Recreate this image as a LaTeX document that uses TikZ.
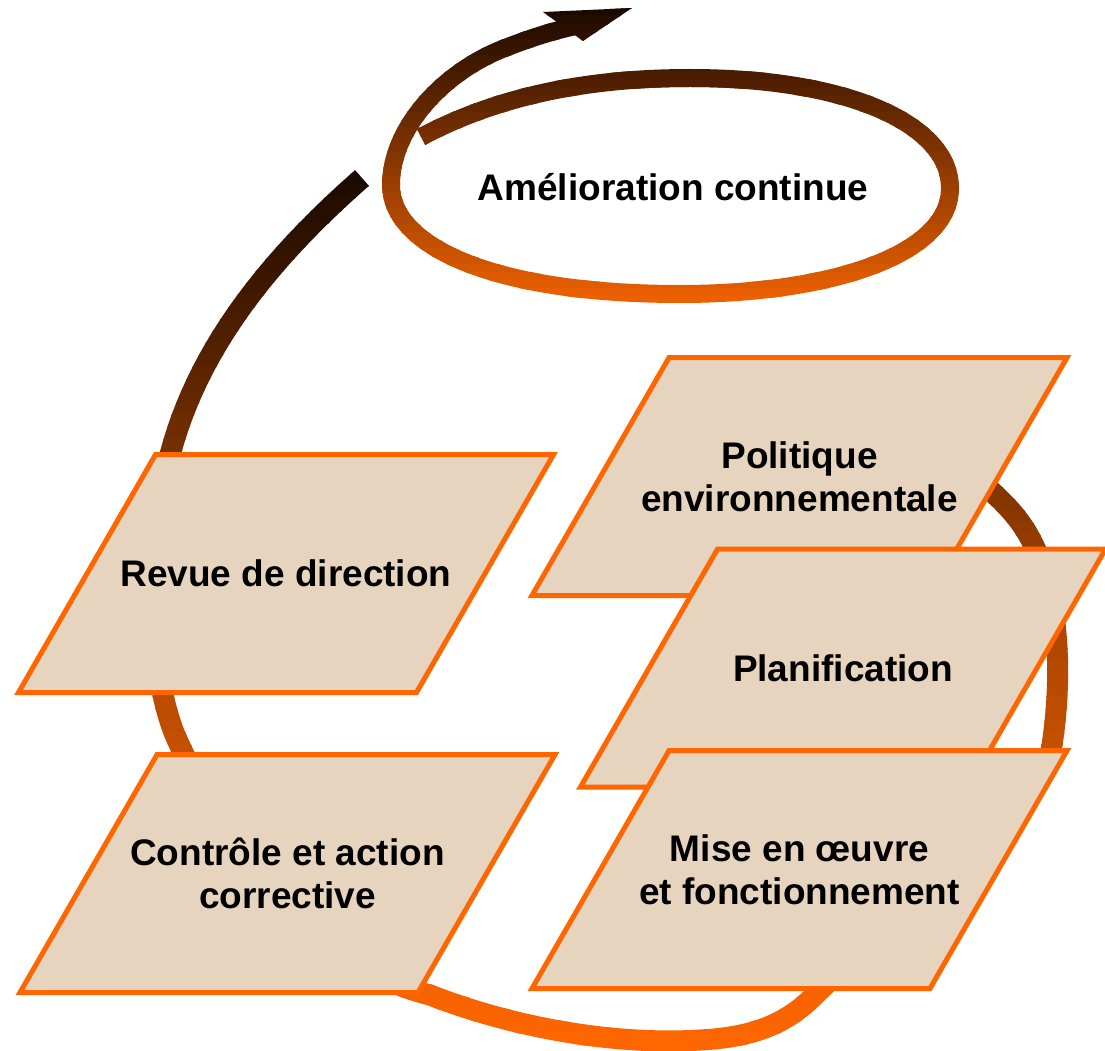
\documentclass[tikz,border=0pt]{standalone}
\usepackage{fontspec}
\setmainfont{Liberation Sans}

\definecolor{panelline}{HTML}{FF6600}
\definecolor{panelfill}{HTML}{E6D4BF}
\definecolor{spiraltop}{HTML}{140600}
\definecolor{spiralbot}{HTML}{F56400}
\definecolor{looplight}{HTML}{FF6600}
\definecolor{loopmid}{HTML}{A84400}
\definecolor{loopdark}{HTML}{120600}

\tikzset{%
        every node/.style = {font = \bfseries\fontsize{37}{43}\selectfont},
        label/.style = {align = center, inner sep = 0pt},
        panelframe/.style = {draw = panelline, line width = 5pt, fill = panelfill, xslant = 0.576},
        band/.style = {line width = 21pt},
        thinband/.style = {line width = 18pt},
        spiralline/.style = {insert path = {(421,137) .. controls (500,95) and (590,78) .. (690,78)
            .. controls (850,78) and (950,125) .. (950,188)
            .. controls (950,255) and (830,294) .. (680,294)
            .. controls (490,294) and (391,245) .. (391,185)
            .. controls (391,130) and (440,75) .. (500,50)
            .. controls (530,38) and (555,30) .. (585,24)}},
        loopline/.style = {insert path = {(362,178) .. controls (280,250) and (200,340) .. (170,455)
            .. controls (150,540) and (145,660) .. (175,735)
            .. controls (240,880) and (330,970) .. (430,995)
            .. controls (520,1030) and (620,1045) .. (700,1040)
            .. controls (760,1037) and (790,1020) .. (815,995)
            .. controls (900,910) and (1040,820) .. (1052,745)
            .. controls (1062,680) and (1060,600) .. (1035,548)
            .. controls (1020,515) and (1000,500) .. (985,485)}}
    }

% slanted box with its text: name, x, y, half width, text
\newcommand{\panelbox}[5]{%
    \draw[shift = {(#2,#3)}, panelframe] (-#4,-119) rectangle (#4,119);
    \node[label] (#1) at (#2,#3) {#5};
}

\begin{document}
\begin{tikzpicture}[x = 1pt, y = -1pt]
    \useasboundingbox (0,0) rectangle (1105,1051);

    % spiral, coloured in thin horizontal strips
    \foreach \y in {0,8,...,312} {
        \pgfmathtruncatemacro{\p}{min(100,(\y+4)/3.1)}
        \begin{scope}
            \clip (300,\y) rectangle (1000,\y+9);
            \draw[thinband, spiralbot!\p!spiraltop] [spiralline];
            \fill[spiralbot!\p!spiraltop] (543,12) -- (632,8) -- (583,41) -- cycle;
        \end{scope}
    }

    % big loop, dark above and orange below
    \foreach \y in {150,162,...,594} {
        \pgfmathtruncatemacro{\p}{(\y+6-150)/4.5}
        \begin{scope}
            \clip (100,\y) rectangle (1100,\y+13);
            \draw[band, loopmid!\p!loopdark] [loopline];
        \end{scope}
    }
    \foreach \y in {600,612,...,1080} {
        \pgfmathtruncatemacro{\p}{min(100,(\y+6-600)/4.4)}
        \begin{scope}
            \clip (100,\y) rectangle (1100,\y+13);
            \draw[band, looplight!\p!loopmid] [loopline];
        \end{scope}
    }

    \node (goal) at (673,187) {Amélioration continue};

    % right column
    \panelbox{polit}{799.5}{476.5}{199}{Politique\\environnementale}
    \panelbox{plan}{843}{668}{194}{Planification}
    \panelbox{mise}{799.5}{869.5}{199}{Mise en œuvre\\et fonctionnement}

    % left column
    \panelbox{revue}{286}{573.5}{199}{Revue de direction}
    \panelbox{ctrl}{287.5}{873.5}{199}{Contrôle et action\\corrective}
\end{tikzpicture}
\end{document}
